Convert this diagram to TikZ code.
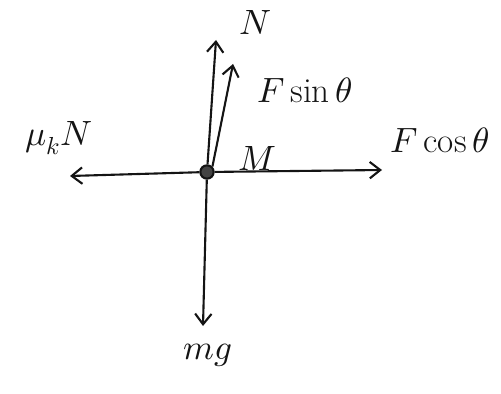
\documentclass[tikz,border=0pt]{standalone}
\usepackage{amsmath}
\usepackage{unicode-math}
\setmathfont{Latin Modern Math}
\usepackage{tikz}
\usetikzlibrary{arrows.meta, positioning}
\definecolor{ink}{RGB}{20,20,20}
\tikzset{
  force/.style={-{Straight Barb[length=9pt,width=14pt]}, line width=1.8pt, color=ink},
  flabel/.style={font=\fontsize{30}{36}\selectfont, text=ink, inner sep=1pt},
  mass/.style={circle, draw=ink, fill=ink!80, minimum size=0.4cm, line width=1.8pt, inner sep=0pt}
}
\begin{document}
\begin{tikzpicture}[x=0.03cm, y=-0.03cm]
  \useasboundingbox (0,0) rectangle (501,394);
  % block and the tips of the forces
  \node[mass] (m) at (207,172) {};
  \coordinate (nTip) at (216,40);
  \coordinate (fsTip) at (233,64);
  \coordinate (fkTip) at (70,176);
  \coordinate (fcTip) at (382,170);
  \coordinate (wTip) at (203,326);
  \draw[force] (m) -- (nTip);
  \draw[force] (m.north east) -- (fsTip);
  \draw[force] (m) -- (fkTip);
  \draw[force] (m) -- (fcTip);
  \draw[force] (m) -- (wTip);
  % labels
  \node[flabel] (nLbl) at (255,22) {$N$};
  \node[flabel] (fsLbl) at (305,90) {$F\sin\theta$};
  \node[flabel] (fkLbl) at (59,138) {$\mu_k N$};
  \node[flabel] (fcLbl) at (440,140) {$F\cos\theta$};
  \node[flabel] (mLbl) at (257,158) {$M$};
  \node[flabel] (wLbl) at (208,355) {$mg$};
\end{tikzpicture}
\end{document}
